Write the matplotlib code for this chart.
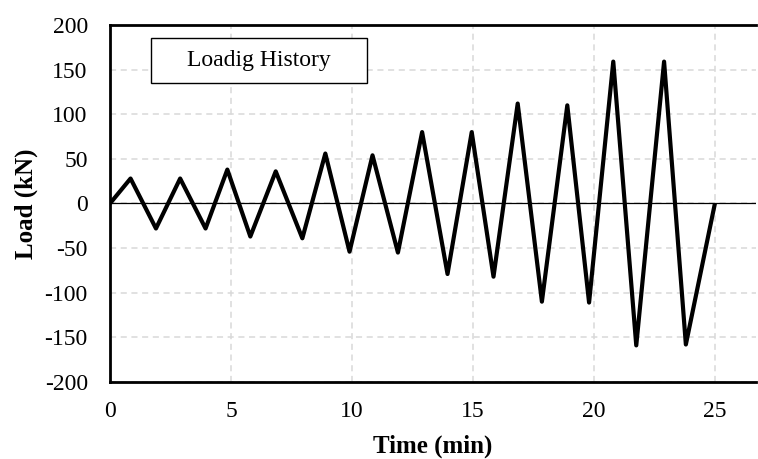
import matplotlib.pyplot as plt
from matplotlib.patches import Rectangle

# Loading history
time_min = [0, 0.85, 1.9, 2.9, 3.95, 4.85, 5.8, 6.85, 7.95, 8.9, 9.9, 10.85,
            11.9, 12.9, 13.95, 14.95, 15.85, 16.85, 17.85, 18.9, 19.8, 20.8,
            21.75, 22.9, 23.8, 25]
load_kn = [0, 28, -28, 28, -28, 38, -37, 36, -39, 56, -54, 54,
           -55, 80, -79, 80, -82, 112, -110, 110, -111, 159,
           -159, 159, -158, 0]

x_ticks = [0, 5, 10, 15, 20, 25]
y_ticks = [-200, -150, -100, -50, 0, 50, 100, 150, 200]

plt.rcParams['font.family'] = ['Liberation Serif', 'DejaVu Serif']
plt.rcParams['axes.unicode_minus'] = False

fig = plt.figure(figsize=(7.58, 4.59), dpi=100)
ax = fig.add_axes([0.1451, 0.1678, 0.8523, 0.7777])

ax.plot(time_min, load_kn, color='black', lw=3, solid_joinstyle='round',
        solid_capstyle='butt', zorder=3)
ax.axhline(0, color='black', lw=0.9, zorder=2)

ax.set_xlim(0, 26.7)
ax.set_ylim(-200, 200)
ax.set_xticks(x_ticks)
ax.set_yticks(y_ticks)
ax.tick_params(length=0, labelsize=17, pad=16)
ax.tick_params(axis='x', pad=14)

ax.grid(True, color='#d9d9d9', linestyle=(0, (4, 3)), lw=1.1)
ax.set_axisbelow(True)

for s in ['left', 'bottom', 'top']:
    ax.spines[s].set_linewidth(2)
ax.spines['right'].set_visible(False)

ax.set_xlabel('Time (min)', fontsize=18, fontweight='bold', labelpad=9)
ax.set_ylabel('Load (kN)', fontsize=18, fontweight='bold', labelpad=5)

# legend-like label box
ax.add_patch(Rectangle((0.0635, 0.8375), 0.3344, 0.126, transform=ax.transAxes,
                       facecolor='white', edgecolor='black', lw=1, zorder=4))
ax.text(0.2307, 0.9006, 'Loadig History', transform=ax.transAxes,
        ha='center', va='center', fontsize=17, zorder=5)

fig.savefig('out.png', dpi=100)
